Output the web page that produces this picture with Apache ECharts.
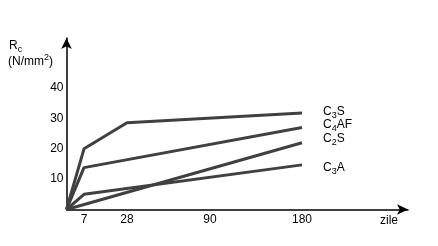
<!DOCTYPE html>
<html>
<head>
<meta charset="utf-8">
<script src="https://cdn.jsdelivr.net/npm/echarts@6/dist/echarts.min.js"></script>
<style>html,body{margin:0;padding:0;background:#fff}#c{width:438px;height:246px}</style>
</head>
<body>
<div id="c"></div>
<script>
// ---- data ----
const xTickDays = [7, 28, 90, 180];
const yTickValues = [10, 20, 30, 40];
const c3sDays = [0, 7, 28, 180];
const c3sValues = [0, 20, 28.6, 31.8];
const c4afDays = [0, 7, 180];
const c4afValues = [0, 13.8, 27];
const c2sDays = [0, 180];
const c2sValues = [0, 22];
const c3aDays = [0, 7, 180];
const c3aValues = [0, 5, 14.7];

// ---- schematic (non-linear) day axis of the original drawing ----
const scaleDomain = [0, 7, 28, 90, 180];
const scaleRange = [0, 17.5, 60.5, 143.5, 235.5];
function dayToAxis(d) {
  for (let i = 1; i < scaleDomain.length; i++) {
    if (d <= scaleDomain[i]) {
      const t = (d - scaleDomain[i - 1]) / (scaleDomain[i] - scaleDomain[i - 1]);
      return scaleRange[i - 1] + t * (scaleRange[i] - scaleRange[i - 1]);
    }
  }
  return scaleRange[scaleRange.length - 1];
}
function pts(days, vals) { return days.map((d, i) => [dayToAxis(d), vals[i]]); }

const FONT = 'Arial, "Liberation Sans", sans-serif';
const rich = {
  b: { fontSize: 12, fontFamily: FONT, color: '#000', verticalAlign: 'top' },
  s: { fontSize: 9, fontFamily: FONT, color: '#000', verticalAlign: 'top', padding: [5, 0, 0, 0] },
  q: { fontSize: 12, fontFamily: FONT, color: '#000', verticalAlign: 'top', padding: [3, 0, 0, 0] },
  p: { fontSize: 9, fontFamily: FONT, color: '#000', verticalAlign: 'top' }
};
const lineStyle = { color: '#404040', width: 3 };
function mkSeries(name, data, fmt, dy) {
  return {
    type: 'line', name, data, symbol: 'none', animation: false,
    lineStyle, itemStyle: { color: '#404040' },
    endLabel: { show: true, formatter: fmt, rich, distance: 0, offset: [21, dy] }
  };
}

const chart = echarts.init(document.getElementById('c'), null, { renderer: 'canvas' });
chart.setOption({
  animation: false,
  backgroundColor: '#fff',
  grid: { left: 66.5, right: 30, top: 38, bottom: 36.5 },
  xAxis: {
    type: 'value', min: 0, max: 341.5,
    axisLine: { show: true, lineStyle: { color: '#000', width: 1.5 }, symbol: ['none', 'arrow'], symbolSize: [8, 11] },
    axisTick: { show: false },
    splitLine: { show: false },
    axisLabel: {
      customValues: xTickDays.map(dayToAxis),
      formatter: v => { const i = xTickDays.findIndex(d => Math.abs(dayToAxis(d) - v) < 0.01); return i >= 0 ? String(xTickDays[i]) : ''; },
      fontSize: 12, fontFamily: FONT, color: '#000', margin: 4
    }
  },
  yAxis: {
    type: 'value', min: 0, max: 56.5,
    axisLine: { show: true, lineStyle: { color: '#000', width: 1.5 }, symbol: ['none', 'arrow'], symbolSize: [8, 11] },
    axisTick: { show: false },
    splitLine: { show: false },
    axisLabel: { customValues: yTickValues, fontSize: 12, fontFamily: FONT, color: '#000', margin: 3 }
  },
  series: [
    mkSeries('C3S', pts(c3sDays, c3sValues), '{b|C}{s|3}{b|S}', 0),
    mkSeries('C4AF', pts(c4afDays, c4afValues), '{b|C}{s|4}{b|AF}', -2),
    mkSeries('C2S', pts(c2sDays, c2sValues), '{b|C}{s|2}{b|S}', -3),
    mkSeries('C3A', pts(c3aDays, c3aValues), '{b|C}{s|3}{b|A}', 4)
  ],
  graphic: [
    { type: 'text', left: 9, top: 40, style: { text: '{b|R}{s|c}', rich } },
    { type: 'text', left: 8, top: 53, style: { text: '{q|(N/mm}{p|2}{q|)}', rich } },
    { type: 'text', left: 380, top: 215, style: { text: 'zile', fontSize: 12, fontFamily: FONT, fill: '#000' } }
  ]
});
</script>
</body>
</html>
